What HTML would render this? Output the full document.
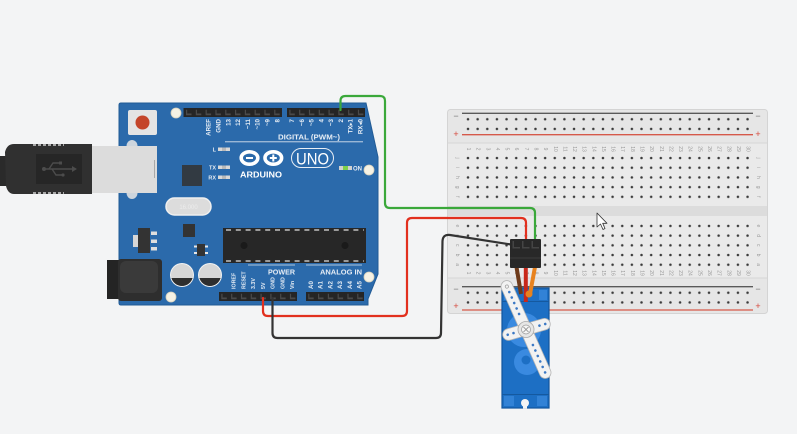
<!DOCTYPE html>
<html><head><meta charset="utf-8"><style>
html,body{margin:0;padding:0;background:#f3f4f5;}
svg{display:block;font-family:"Liberation Sans","DejaVu Sans",sans-serif;}
.bbn text{font-size:5px;fill:#9a9a9a;text-anchor:middle;dominant-baseline:central;}
.al{fill:#e6edf5;font-weight:bold;}
</style></head><body>
<svg width="797" height="434" viewBox="0 0 797 434" xmlns="http://www.w3.org/2000/svg">
<defs>
<pattern id="h1" x="463.18" y="153.15" width="9.64" height="9.7" patternUnits="userSpaceOnUse"><circle cx="4.82" cy="4.85" r="1.25" fill="#3a3a3a"/></pattern>
<pattern id="h2" x="463.18" y="287.85" width="9.64" height="9.7" patternUnits="userSpaceOnUse"><circle cx="4.82" cy="4.85" r="1.25" fill="#3a3a3a"/></pattern>
</defs>
<rect width="797" height="434" fill="#f3f4f5"/>

<!-- Breadboard -->
<rect x="447.5" y="109.5" width="320" height="204" rx="3" fill="#e6e6e6" stroke="#d4d4d4"/>
<rect x="448" y="143" width="319" height="135" fill="#eaeaea"/>
<line x1="448" y1="143" x2="767" y2="143" stroke="#d6d6d6"/>
<line x1="448" y1="278" x2="767" y2="278" stroke="#d6d6d6"/>
<rect x="448" y="206" width="319" height="10" fill="#dcdcdc"/>
<line x1="462" y1="113.3" x2="753" y2="113.3" stroke="#5a5a5a" stroke-width="1.3"/>
<line x1="462" y1="134.7" x2="753" y2="134.7" stroke="#d5594a" stroke-width="1.3"/>
<line x1="462" y1="286.7" x2="753" y2="286.7" stroke="#5a5a5a" stroke-width="1.3"/>
<line x1="462" y1="310" x2="753" y2="310" stroke="#d5594a" stroke-width="1.3"/>
<g font-size="9" text-anchor="middle">
<text x="456" y="119" fill="#777">−</text><text x="758" y="119" fill="#777">−</text>
<text x="456" y="137" fill="#d5473a">+</text><text x="758" y="137" fill="#d5473a">+</text>
<text x="456" y="292" fill="#777">−</text><text x="758" y="292" fill="#777">−</text>
<text x="456" y="309" fill="#d5473a">+</text><text x="758" y="309" fill="#d5473a">+</text>
</g>
<rect x="463.18" y="114.35" width="289.2" height="19.4" fill="url(#h1)"/>
<rect x="463.18" y="153.15" width="289.2" height="48.5" fill="url(#h1)"/>
<rect x="463.18" y="221.05" width="289.2" height="48.5" fill="url(#h1)"/>
<rect x="463.18" y="287.85" width="289.2" height="19.4" fill="url(#h2)"/>
<g class="bbn">
<text transform="translate(468,149) rotate(90)">1</text><text transform="translate(477.6,149) rotate(90)">2</text><text transform="translate(487.3,149) rotate(90)">3</text><text transform="translate(496.9,149) rotate(90)">4</text><text transform="translate(506.6,149) rotate(90)">5</text><text transform="translate(516.2,149) rotate(90)">6</text><text transform="translate(525.8,149) rotate(90)">7</text><text transform="translate(535.5,149) rotate(90)">8</text><text transform="translate(545.1,149) rotate(90)">9</text><text transform="translate(554.8,149) rotate(90)">10</text><text transform="translate(564.4,149) rotate(90)">11</text><text transform="translate(574,149) rotate(90)">12</text><text transform="translate(583.7,149) rotate(90)">13</text><text transform="translate(593.3,149) rotate(90)">14</text><text transform="translate(603,149) rotate(90)">15</text><text transform="translate(612.6,149) rotate(90)">16</text><text transform="translate(622.2,149) rotate(90)">17</text><text transform="translate(631.9,149) rotate(90)">18</text><text transform="translate(641.5,149) rotate(90)">19</text><text transform="translate(651.2,149) rotate(90)">20</text><text transform="translate(660.8,149) rotate(90)">21</text><text transform="translate(670.4,149) rotate(90)">22</text><text transform="translate(680.1,149) rotate(90)">23</text><text transform="translate(689.7,149) rotate(90)">24</text><text transform="translate(699.4,149) rotate(90)">25</text><text transform="translate(709,149) rotate(90)">26</text><text transform="translate(718.6,149) rotate(90)">27</text><text transform="translate(728.3,149) rotate(90)">28</text><text transform="translate(737.9,149) rotate(90)">29</text><text transform="translate(747.6,149) rotate(90)">30</text>
<text transform="translate(468,273) rotate(90)">1</text><text transform="translate(477.6,273) rotate(90)">2</text><text transform="translate(487.3,273) rotate(90)">3</text><text transform="translate(496.9,273) rotate(90)">4</text><text transform="translate(506.6,273) rotate(90)">5</text><text transform="translate(516.2,273) rotate(90)">6</text><text transform="translate(525.8,273) rotate(90)">7</text><text transform="translate(535.5,273) rotate(90)">8</text><text transform="translate(545.1,273) rotate(90)">9</text><text transform="translate(554.8,273) rotate(90)">10</text><text transform="translate(564.4,273) rotate(90)">11</text><text transform="translate(574,273) rotate(90)">12</text><text transform="translate(583.7,273) rotate(90)">13</text><text transform="translate(593.3,273) rotate(90)">14</text><text transform="translate(603,273) rotate(90)">15</text><text transform="translate(612.6,273) rotate(90)">16</text><text transform="translate(622.2,273) rotate(90)">17</text><text transform="translate(631.9,273) rotate(90)">18</text><text transform="translate(641.5,273) rotate(90)">19</text><text transform="translate(651.2,273) rotate(90)">20</text><text transform="translate(660.8,273) rotate(90)">21</text><text transform="translate(670.4,273) rotate(90)">22</text><text transform="translate(680.1,273) rotate(90)">23</text><text transform="translate(689.7,273) rotate(90)">24</text><text transform="translate(699.4,273) rotate(90)">25</text><text transform="translate(709,273) rotate(90)">26</text><text transform="translate(718.6,273) rotate(90)">27</text><text transform="translate(728.3,273) rotate(90)">28</text><text transform="translate(737.9,273) rotate(90)">29</text><text transform="translate(747.6,273) rotate(90)">30</text>
<text transform="translate(457,158) rotate(90)">j</text><text transform="translate(457,167.7) rotate(90)">i</text><text transform="translate(457,177.4) rotate(90)">h</text><text transform="translate(457,187.1) rotate(90)">g</text><text transform="translate(457,196.8) rotate(90)">f</text>
<text transform="translate(457,225.9) rotate(90)">e</text><text transform="translate(457,235.6) rotate(90)">d</text><text transform="translate(457,245.3) rotate(90)">c</text><text transform="translate(457,255) rotate(90)">b</text><text transform="translate(457,264.7) rotate(90)">a</text>
<text transform="translate(758,158) rotate(90)">j</text><text transform="translate(758,167.7) rotate(90)">i</text><text transform="translate(758,177.4) rotate(90)">h</text><text transform="translate(758,187.1) rotate(90)">g</text><text transform="translate(758,196.8) rotate(90)">f</text>
<text transform="translate(758,225.9) rotate(90)">e</text><text transform="translate(758,235.6) rotate(90)">d</text><text transform="translate(758,245.3) rotate(90)">c</text><text transform="translate(758,255) rotate(90)">b</text><text transform="translate(758,264.7) rotate(90)">a</text>
</g>

<!-- Arduino board -->
<path d="M121,103 H366 L378,157 V274 L368,299 V305 H121 Q119,305 119,303 V105 Q119,103 121,103Z" fill="#2b6aab" stroke="#225b95"/>
<!-- USB cable -->
<rect x="0" y="156" width="8" height="30" fill="#2a2a2a"/>
<path d="M14,144 H92 V194 H14 Q8,194 6,186 L5,152 Q7,144 14,144Z" fill="#303030"/>
<line x1="33" y1="145" x2="64" y2="145" stroke="#d0d0d0" stroke-width="1.4" stroke-dasharray="3 2"/>
<line x1="33" y1="193" x2="64" y2="193" stroke="#d0d0d0" stroke-width="1.4" stroke-dasharray="3 2"/>
<rect x="36" y="154" width="46" height="30" fill="#262626"/>
<g stroke="#4c4c4c" stroke-width="1.4" fill="none">
<line x1="44" y1="169" x2="72" y2="169"/>
<polyline points="49,169 53,163 60,163"/>
<polyline points="52,169 56,175 62,175"/>
</g>
<circle cx="44" cy="169" r="2" fill="#4c4c4c"/>
<rect x="59" y="161.5" width="3" height="3" fill="#4c4c4c"/>
<circle cx="63" cy="175" r="1.6" fill="#4c4c4c"/>
<polygon points="72,166 77,169 72,172" fill="#4c4c4c"/>
<ellipse cx="132" cy="146" rx="5.5" ry="6" fill="#cdd5dd"/>
<ellipse cx="132" cy="193" rx="5.5" ry="6" fill="#cdd5dd"/>
<rect x="92" y="146" width="65" height="47" fill="#dcdcdc"/>
<line x1="154.5" y1="160" x2="154.5" y2="178" stroke="#a8a8a8" stroke-width="1"/>
<!-- reset -->
<rect x="128" y="110" width="29" height="25" rx="2" fill="#e4e4e4"/>
<circle cx="142.5" cy="122.5" r="7" fill="#c4452a"/>
<!-- holes -->
<g fill="#f6f2e4" stroke="#d8d2bd" stroke-width="0.8">
<circle cx="176" cy="113" r="5"/><circle cx="369" cy="170" r="5"/><circle cx="369" cy="277" r="5"/><circle cx="171" cy="297" r="5"/>
</g>
<!-- headers -->
<rect x="183.5" y="108" width="98.5" height="9" fill="#252525"/>
<rect x="287" y="108" width="78" height="9" fill="#252525"/>
<rect x="219" y="292" width="78" height="9" fill="#252525"/>
<rect x="306" y="292" width="58" height="9" fill="#252525"/>
<g stroke-width="5.5" stroke-dasharray="5.5 4.3">
<line x1="186" y1="112.5" x2="282" y2="112.5" stroke="#4a4a4a"/>
<line x1="187.2" y1="111.3" x2="282" y2="111.3" stroke="#252525" stroke-width="4.5"/>
<line x1="289.3" y1="112.5" x2="365" y2="112.5" stroke="#4a4a4a"/>
<line x1="290.5" y1="111.3" x2="365" y2="111.3" stroke="#252525" stroke-width="4.5"/>
<line x1="221.3" y1="296.5" x2="297" y2="296.5" stroke="#4a4a4a"/>
<line x1="222.5" y1="295.3" x2="297" y2="295.3" stroke="#252525" stroke-width="4.5"/>
<line x1="308.2" y1="296.5" x2="364" y2="296.5" stroke="#4a4a4a"/>
<line x1="309.4" y1="295.3" x2="364" y2="295.3" stroke="#252525" stroke-width="4.5"/>
</g>
<!-- top labels -->
<g class="al" font-size="6.2" text-anchor="end">
<text transform="translate(210.7,119) rotate(-90)">AREF</text>
<text transform="translate(220.5,119) rotate(-90)">GND</text>
<text transform="translate(230.3,119) rotate(-90)">13</text>
<text transform="translate(240.1,119) rotate(-90)">12</text>
<text transform="translate(249.9,119) rotate(-90)">~11</text>
<text transform="translate(259.7,119) rotate(-90)">~10</text>
<text transform="translate(269.5,119) rotate(-90)">~9</text>
<text transform="translate(279.3,119) rotate(-90)">8</text>
<text transform="translate(294.1,119) rotate(-90)">7</text>
<text transform="translate(303.8,119) rotate(-90)">~6</text>
<text transform="translate(313.6,119) rotate(-90)">~5</text>
<text transform="translate(323.3,119) rotate(-90)">4</text>
<text transform="translate(333.1,119) rotate(-90)">~3</text>
<text transform="translate(342.8,119) rotate(-90)">2</text>
<text transform="translate(352.6,119) rotate(-90)">TX▸1</text>
<text transform="translate(362.3,119) rotate(-90)">RX◂0</text>
</g>
<text class="al" x="278" y="139.5" font-size="7.3" textLength="62" lengthAdjust="spacingAndGlyphs">DIGITAL (PWM~)</text>
<line x1="225" y1="141.8" x2="363" y2="141.8" stroke="#dbe4ee" stroke-width="0.8"/>
<!-- L TX RX -->
<g class="al" font-size="5.5" text-anchor="end">
<text x="216" y="151.5">L</text><text x="216" y="169.5">TX</text><text x="216" y="179.5">RX</text>
</g>
<g fill="#d8d8d8">
<rect x="218" y="147.5" width="12" height="3.5"/><rect x="218" y="165.5" width="12" height="3.5"/><rect x="218" y="175.5" width="12" height="3.5"/>
</g>
<g fill="#b9b9b9"><rect x="222" y="147.5" width="4" height="3.5"/><rect x="222" y="165.5" width="4" height="3.5"/><rect x="222" y="175.5" width="4" height="3.5"/></g>
<rect x="182" y="165" width="20" height="21" fill="#323a42"/>
<!-- logo -->
<ellipse cx="249.5" cy="158" rx="8.3" ry="6.2" fill="none" stroke="#fff" stroke-width="3.6"/>
<ellipse cx="273.3" cy="158" rx="8.3" ry="6.2" fill="none" stroke="#fff" stroke-width="3.6"/>
<rect x="246" y="157" width="7" height="2" fill="#fff"/>
<rect x="269.8" y="157" width="7" height="2" fill="#fff"/><rect x="272.3" y="154.5" width="2" height="7" fill="#fff"/>
<text x="240" y="177.5" font-size="8" font-weight="bold" fill="#fff" textLength="42" lengthAdjust="spacingAndGlyphs">ARDUINO</text>
<rect x="291.5" y="148.5" width="42" height="19" rx="9.5" fill="none" stroke="#e8eef5" stroke-width="1"/>
<text x="312.5" y="164.3" font-size="16.5" fill="#fff" text-anchor="middle" textLength="33" lengthAdjust="spacingAndGlyphs">UNO</text>
<rect x="339" y="166" width="13" height="4" fill="#d0d0d0"/><rect x="343" y="166" width="5" height="4" fill="#7ed04b"/>
<text class="al" x="353" y="170.5" font-size="6">ON</text>
<!-- crystal -->
<rect x="166" y="198" width="45" height="17" rx="8.5" fill="#dcdcdc" stroke="#efefef" stroke-width="1.5"/>
<text x="188.5" y="208.8" font-size="6" fill="#ececec" text-anchor="middle">16.000</text>
<rect x="183" y="224" width="12" height="13" fill="#333"/>
<!-- regulator -->
<rect x="133" y="235" width="5" height="12" fill="#d6d6d6"/>
<rect x="138" y="228" width="12" height="25" fill="#333"/>
<g fill="#dedede"><rect x="151" y="231.5" width="6" height="3.5"/><rect x="151" y="239.5" width="6" height="3.5"/><rect x="151" y="247" width="6" height="3.5"/></g>
<!-- small chip -->
<rect x="197" y="244" width="8" height="12" fill="#333"/>
<g fill="#e6e6e6"><rect x="194" y="245.5" width="3" height="2"/><rect x="194" y="252" width="3" height="2"/><rect x="205" y="245.5" width="3" height="2"/><rect x="205" y="252" width="3" height="2"/></g>
<!-- DC jack -->
<rect x="107" y="260" width="13" height="39" fill="#242424"/>
<rect x="118" y="259" width="44" height="42" rx="3" fill="#2e2e2e"/>
<rect x="120" y="261" width="38" height="32" rx="6" fill="#3a3a3a"/>
<!-- capacitors -->
<circle cx="182" cy="275" r="12" fill="#f2f2f2"/>
<circle cx="182" cy="275" r="11" fill="#d6d6d6"/>
<path d="M171.42,278 A11,11 0 0 0 192.58,278 Z" fill="#2e2e2e"/>
<circle cx="210" cy="275" r="12" fill="#f2f2f2"/>
<circle cx="210" cy="275" r="11" fill="#d6d6d6"/>
<path d="M199.42,278 A11,11 0 0 0 220.58,278 Z" fill="#2e2e2e"/>
<!-- main chip -->
<rect x="223" y="228" width="143" height="35" fill="#272727"/>
<line x1="226" y1="230" x2="364" y2="230" stroke="#e0e0e0" stroke-width="1.3" stroke-dasharray="5 4.8"/>
<line x1="226" y1="261" x2="364" y2="261" stroke="#e0e0e0" stroke-width="1.3" stroke-dasharray="5 4.8"/>
<circle cx="244" cy="245.5" r="3.5" fill="#1a1a1a"/>
<circle cx="345" cy="245.5" r="3.5" fill="#1a1a1a"/>
<!-- power labels -->
<line x1="248" y1="265" x2="295" y2="265" stroke="#dbe4ee" stroke-width="0.8"/>
<line x1="306" y1="265" x2="362" y2="265" stroke="#dbe4ee" stroke-width="0.8"/>
<text class="al" x="268" y="274.5" font-size="7.3" textLength="27" lengthAdjust="spacingAndGlyphs">POWER</text>
<text class="al" x="320" y="274.5" font-size="7.3" textLength="42" lengthAdjust="spacingAndGlyphs">ANALOG IN</text>
<g class="al" font-size="5.3">
<text transform="translate(235.6,289) rotate(-90)">IOREF</text>
<text transform="translate(245.4,289) rotate(-90)">RESET</text>
<text transform="translate(255.1,289) rotate(-90)">3.3V</text>
<text transform="translate(264.9,289) rotate(-90)">5V</text>
<text transform="translate(274.6,289) rotate(-90)">GND</text>
<text transform="translate(284.4,289) rotate(-90)">GND</text>
<text transform="translate(294.1,289) rotate(-90)">Vin</text>
</g>
<g class="al" font-size="6.2">
<text transform="translate(313,289) rotate(-90)">A0</text>
<text transform="translate(322.7,289) rotate(-90)">A1</text>
<text transform="translate(332.4,289) rotate(-90)">A2</text>
<text transform="translate(342.1,289) rotate(-90)">A3</text>
<text transform="translate(351.8,289) rotate(-90)">A4</text>
<text transform="translate(361.5,289) rotate(-90)">A5</text>
</g>

<!-- wires -->
<g fill="none" stroke-width="2.2" stroke-linecap="round" stroke-linejoin="round">
<path d="M340.5,110 V101 Q340.5,96 345.5,96 H380 Q385,96 385,101 V203 Q385,208 390,208 H530 Q535,208 535,213 V242" stroke="#3aa83a"/>
<path d="M263,298 V311 Q263,316 268,316 H402 Q407,316 407,311 V223 Q407,218 412,218 H521 Q526,218 526,223 V242" stroke="#e2301e"/>
<path d="M272.5,298 V333 Q272.5,338 277.5,338 H436 Q441,338 441,333 L442.5,241 Q443,234 450,235 L511,244.5" stroke="#333"/>
</g>

<!-- servo -->
<rect x="502" y="288" width="47" height="120" fill="#1d6fc4" stroke="#12559c" stroke-width="1.2"/>
<g fill="#3282d6">
<rect x="504" y="290" width="8" height="10"/><rect x="539" y="290" width="8" height="10"/>
<rect x="504" y="396" width="10" height="10"/><rect x="537" y="396" width="10" height="10"/>
</g>
<line x1="502" y1="394.5" x2="549" y2="394.5" stroke="#15599f" stroke-width="1"/>
<line x1="502" y1="301.5" x2="549" y2="301.5" stroke="#15599f" stroke-width="1"/>
<circle cx="524" cy="330" r="17" fill="#3a8ae0"/>
<circle cx="527" cy="362" r="13" fill="#3a8ae0"/>
<circle cx="526" cy="360" r="4.5" fill="#1d6fc4"/>
<circle cx="525" cy="403" r="4" fill="#f3f4f5"/>
<rect x="523" y="403" width="4" height="5.5" fill="#f3f4f5"/>
<!-- servo leads -->
<g stroke-width="4" stroke-linecap="butt">
<line x1="516.5" y1="267" x2="521" y2="294" stroke="#6e3a1a"/>
<line x1="535" y1="267" x2="530" y2="294" stroke="#e8821e"/>
<line x1="525.8" y1="267" x2="525.8" y2="302" stroke="#c8281a"/>
</g>
<circle cx="529" cy="294" r="3.5" fill="#e8821e"/>
<!-- connector -->
<rect x="510" y="239" width="31" height="29" rx="1" fill="#282828"/>
<g fill="#454545"><rect x="512.5" y="241" width="7.5" height="7.5"/><rect x="522" y="241" width="7.5" height="7.5"/><rect x="531.5" y="241" width="7.5" height="7.5"/></g>
<g fill="#282828"><rect x="514" y="241" width="6" height="6"/><rect x="523.5" y="241" width="6" height="6"/><rect x="533" y="241" width="6" height="6"/></g>
<line x1="510" y1="258" x2="541" y2="258" stroke="#444" stroke-width="0.8"/>
<!-- horn -->
<g transform="translate(526,329.5)">
<g transform="rotate(66)">
<rect x="-53" y="-5.8" width="106" height="11.6" rx="5.8" fill="#f2f2f2" stroke="#b5b5b5" stroke-width="0.8"/>
</g>
<g transform="rotate(-16)">
<rect x="-24" y="-5.8" width="49" height="11.6" rx="5.8" fill="#f2f2f2" stroke="#b5b5b5" stroke-width="0.8"/>
</g>
<g transform="rotate(66)" fill="#3b78c4">
<circle cx="-47" cy="0" r="1.6" fill="none" stroke="#999" stroke-width="0.7"/>
<circle cx="-41" cy="0" r="1.3"/><circle cx="-35" cy="0" r="1.3"/><circle cx="-29" cy="0" r="1.3"/><circle cx="-23" cy="0" r="1.3"/><circle cx="-17" cy="0" r="1.3"/>
<circle cx="17" cy="0" r="1.3"/><circle cx="23" cy="0" r="1.3"/><circle cx="29" cy="0" r="1.3"/><circle cx="35" cy="0" r="1.3"/><circle cx="41" cy="0" r="1.3"/><circle cx="47" cy="0" r="1.3"/>
</g>
<g transform="rotate(-16)" fill="#3b78c4">
<circle cx="-19" cy="0" r="1.3"/><circle cx="-13" cy="0" r="1.3"/><circle cx="14" cy="0" r="1.3"/><circle cx="20" cy="0" r="1.3"/>
</g>
<circle cx="0" cy="0" r="8" fill="#e6e6e6" stroke="#a8a8a8" stroke-width="0.8"/>
<circle cx="0" cy="0" r="4.5" fill="#f5f5f5" stroke="#999" stroke-width="0.7"/>
<path d="M-2.5,-2.5 L2.5,2.5 M-2.5,2.5 L2.5,-2.5" stroke="#888" stroke-width="0.8"/>
</g>
<!-- cursor -->
<path d="M597,213 L597,227 L600.5,224 L603,229.5 L605,228.5 L602.7,223.3 L607,223.3 Z" fill="#fff" stroke="#333" stroke-width="0.8" stroke-linejoin="round"/>
</svg>
</body></html>
